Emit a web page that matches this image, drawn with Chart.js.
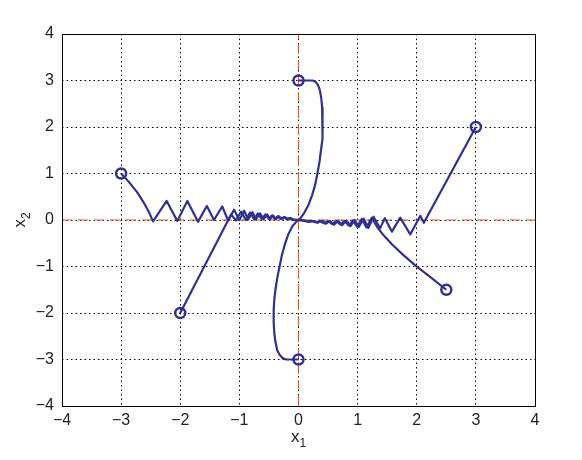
<!DOCTYPE html>
<html><head><meta charset="utf-8">
<script src="https://cdn.jsdelivr.net/npm/chart.js@4/dist/chart.umd.min.js"></script>
<style>html,body{margin:0;padding:0;background:#fff}#wrap{width:582px;height:460px}</style>
</head><body><div id="wrap"><canvas id="c" width="582" height="460"></canvas></div>
<script>
const tickValues = [-4,-3,-2,-1,0,1,2,3,4];
const tickLabels = ['−4','−3','−2','−1','0','1','2','3','4'];
const xTitle = ['x','1'];
const yTitle = ['x','2'];

const traj1 = [[-3,1],[-2.87,0.82],[-2.73,0.6],[-2.62,0.38],[-2.53,0.17],[-2.46,-0.03],[-2.23,0.41],[-2.05,-0.02],[-1.88,0.41],[-1.70,-0.04],[-1.55,0.30],[-1.43,0.0],[-1.29,0.29],[-1.19,-0.01],[-1.09,0.22],[-1.0,0.0],[-0.92,0.2],[-0.85,0.01],[-0.78,0.17],[-0.72,0.02],[-0.65,0.14],[-0.59,0.02],[-0.53,0.12],[-0.48,0.02],[-0.43,0.10],[-0.38,0.02],[-0.33,0.08],[-0.28,0.02],[-0.23,0.06],[-0.18,0.02],[-0.13,0.04],[-0.08,0.01],[0,0]];
const traj2 = [[-2,-2],[-1.14,0.12],[-1.06,-0.01],[-0.97,0.18],[-0.89,0.0],[-0.82,0.16],[-0.75,0.01],[-0.69,0.14],[-0.62,0.02],[-0.56,0.12],[-0.5,0.02],[-0.45,0.1],[-0.4,0.02],[-0.35,0.08],[-0.3,0.02],[-0.25,0.06],[-0.2,0.02],[-0.15,0.04],[-0.1,0.01],[0,0]];
const traj3 = [[0,3],[0.24,3],[0.29,2.97],[0.33,2.9],[0.36,2.8],[0.385,2.62],[0.40,2.42],[0.41,2.2],[0.41,2.0],[0.40,1.75],[0.38,1.5],[0.355,1.25],[0.32,1.0],[0.28,0.75],[0.23,0.53],[0.17,0.33],[0.1,0.16],[0.04,0.05],[0,0]];
const traj4 = [[0,-3],[-0.21,-3],[-0.27,-2.97],[-0.32,-2.9],[-0.36,-2.8],[-0.39,-2.62],[-0.41,-2.42],[-0.42,-2.2],[-0.42,-1.94],[-0.41,-1.72],[-0.39,-1.5],[-0.36,-1.25],[-0.32,-1.0],[-0.28,-0.75],[-0.23,-0.52],[-0.17,-0.3],[-0.1,-0.13],[-0.04,-0.04],[0,0]];
const traj5 = [[3,2],[2.12,-0.06],[2.06,0.09],[1.89,-0.31],[1.72,0.05],[1.58,-0.25],[1.46,0.04],[1.38,-0.18],[1.27,0.07],[1.18,-0.17],[1.1,0.03],[1.02,-0.15],[0.95,0.0],[0.88,-0.13],[0.81,-0.01],[0.74,-0.11],[0.67,-0.02],[0.6,-0.1],[0.53,-0.02],[0.46,-0.08],[0.39,-0.02],[0.32,-0.06],[0.25,-0.02],[0.18,-0.04],[0.1,-0.01],[0,0]];
const traj6 = [[2.5,-1.5],[2.22,-1.22],[1.97,-0.97],[1.77,-0.75],[1.58,-0.52],[1.44,-0.33],[1.33,-0.15],[1.24,0.05],[1.15,-0.16],[1.07,0.02],[0.99,-0.14],[0.92,-0.01],[0.85,-0.12],[0.78,-0.02],[0.71,-0.1],[0.64,-0.02],[0.57,-0.09],[0.5,-0.02],[0.43,-0.07],[0.36,-0.02],[0.29,-0.05],[0.22,-0.02],[0.14,-0.03],[0,0]];
const startPoints = [[-3,1],[-2,-2],[0,3],[0,-3],[3,2],[2.5,-1.5]];
const zeroLineX = [[-4,0],[4,0]];
const zeroLineY = [[0,-4],[0,4]];

const BLUE = '#30318f';
const RED = '#e4572e';
const FONT = '"Liberation Sans", Arial, Helvetica, sans-serif';
const toXY = a => a.map(p => ({x:p[0], y:p[1]}));

const trajDs = [traj1,traj2,traj3,traj4,traj5,traj6].map(t => ({
  data: toXY(t), showLine: true, borderColor: BLUE, borderWidth: 2.2,
  pointRadius: 0, tension: 0, fill: false, order: 1, borderJoinStyle: 'round'
}));

function drawSubTitle(ctx, parts, cx, cy, rot) {
  ctx.save();
  ctx.translate(cx, cy);
  ctx.rotate(rot);
  ctx.fillStyle = '#222';
  ctx.textBaseline = 'alphabetic';
  ctx.textAlign = 'left';
  ctx.font = '17px ' + FONT;
  const w1 = ctx.measureText(parts[0]).width;
  ctx.font = '12px ' + FONT;
  const w2 = ctx.measureText(parts[1]).width;
  const x0 = -(w1 + w2) / 2;
  ctx.font = '17px ' + FONT;
  ctx.fillText(parts[0], x0, 4);
  ctx.font = '12px ' + FONT;
  ctx.fillText(parts[1], x0 + w1, 9);
  ctx.restore();
}

const boxPlugin = {
  id: 'box',
  afterDraw(chart) {
    const {ctx, chartArea: a} = chart;
    ctx.save();
    ctx.strokeStyle = '#000';
    ctx.lineWidth = 1;
    ctx.strokeRect(Math.round(a.left)+0.5, Math.round(a.top)+0.5, Math.round(a.right-a.left), Math.round(a.bottom-a.top));
    ctx.restore();
    drawSubTitle(ctx, xTitle, (a.left + a.right) / 2, 438, 0);
    drawSubTitle(ctx, yTitle, 21, (a.top + a.bottom) / 2, -Math.PI / 2);
  }
};

function axisCommon() {
  return {
    type: 'linear', min: -4, max: 4,
    ticks: { stepSize: 1, color: '#222', font: {family: FONT, size: 16},
      callback: v => { const i = tickValues.indexOf(v); return i >= 0 ? tickLabels[i] : ''; } },
    grid: { color: '#000', lineWidth: 1, drawTicks: false },
    border: { display: false, dash: [1.5, 3] },
    title: { display: false }
  };
}

const xAxis = axisCommon();
xAxis.ticks.padding = 5;
xAxis.afterFit = s => { s.height = 54; };
const yAxis = axisCommon();
yAxis.ticks.padding = 8;
yAxis.afterFit = s => { s.width = 62; };

new Chart(document.getElementById('c'), {
  type: 'scatter',
  data: { datasets: [
    { data: toXY(zeroLineX), showLine: true, borderColor: RED, borderWidth: 1.2, borderDash: [10,6], pointRadius: 0, order: 5 },
    { data: toXY(zeroLineY), showLine: true, borderColor: RED, borderWidth: 1.2, borderDash: [10,6], pointRadius: 0, order: 5 },
    ...trajDs,
    { data: toXY(startPoints), showLine: false, pointRadius: 5, pointBorderWidth: 2.5, pointBorderColor: BLUE, pointBackgroundColor: 'rgba(255,255,255,0)', order: 0 }
  ]},
  options: {
    responsive: false, animation: false, devicePixelRatio: 1,
    layout: { padding: {top: 34, right: 47, left: 0, bottom: 0} },
    plugins: { legend: {display: false}, tooltip: {enabled: false} },
    scales: { x: xAxis, y: yAxis }
  },
  plugins: [boxPlugin]
});
</script>
</body></html>
